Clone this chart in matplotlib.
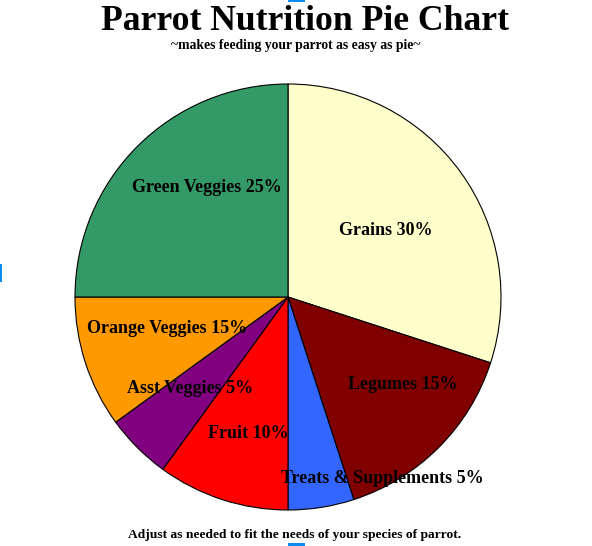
import matplotlib
matplotlib.use('Agg')
from matplotlib import pyplot as plt
from matplotlib.patches import Rectangle

# slices, clockwise from 12 o'clock
categories = ['Grains', 'Legumes', 'Treats & Supplements', 'Fruit',
              'Asst Veggies', 'Orange Veggies', 'Green Veggies']
sizes = [30, 15, 5, 10, 5, 10, 25]
label_pcts = ['30%', '15%', '5%', '10%', '5%', '15%', '25%']
colors = ['#FFFFCC', '#800000', '#3366FF', '#FF0000',
          '#800080', '#FF9900', '#339966']

title = 'Parrot Nutrition Pie Chart'
subtitle = '~makes feeding your parrot as easy as pie~'
footer = 'Adjust as needed to fit the needs of your species of parrot.'

# label centres in pie units (radius = 1)
label_xy = [(0.46, 0.314), (0.54, -0.409), (0.442, -0.85), (-0.188, -0.643),
            (-0.46, -0.428), (-0.568, -0.146), (-0.38, 0.516)]

plt.rcParams['font.family'] = ['Liberation Serif', 'DejaVu Serif']
plt.rcParams['font.weight'] = 'bold'

W, H = 592, 546
fig = plt.figure(figsize=(W / 100, H / 100), dpi=100)
fig.patch.set_facecolor('white')

cx, cy, r = 288, 297, 213
ax = fig.add_axes([(cx - r) / W, (H - cy - r) / H, 2 * r / W, 2 * r / H])
wedges, _ = ax.pie(sizes, colors=colors, startangle=90, counterclock=False,
                   radius=1, wedgeprops=dict(edgecolor='black', linewidth=0.8))
ax.set_xlim(-1, 1)
ax.set_ylim(-1, 1)
ax.set_aspect('equal')
ax.axis('off')

for name, pct, (x, y) in zip(categories, label_pcts, label_xy):
    ax.text(x, y, f'{name} {pct}', ha='center', va='center',
            fontsize=13, fontweight='bold', color='black')

fig.text(305 / W, 1 - 21 / H, title, ha='center', va='center',
         fontsize=25.7, fontweight='bold')
fig.text(296 / W, 1 - 46 / H, subtitle, ha='center', va='center',
         fontsize=9.8, fontweight='bold')
fig.text(295 / W, 1 - 535 / H, footer, ha='center', va='center',
         fontsize=9.7, fontweight='bold')

# little blue selection handles at the edges of the original screenshot
for (x0, y0, w, h) in [(288, 0, 17, 2), (288, 543, 17, 3), (0, 264, 2, 18)]:
    fig.add_artist(Rectangle((x0 / W, 1 - (y0 + h) / H), w / W, h / H,
                             transform=fig.transFigure, color='#0A8CF0',
                             linewidth=0))

plt.savefig('out.png', dpi=100)
